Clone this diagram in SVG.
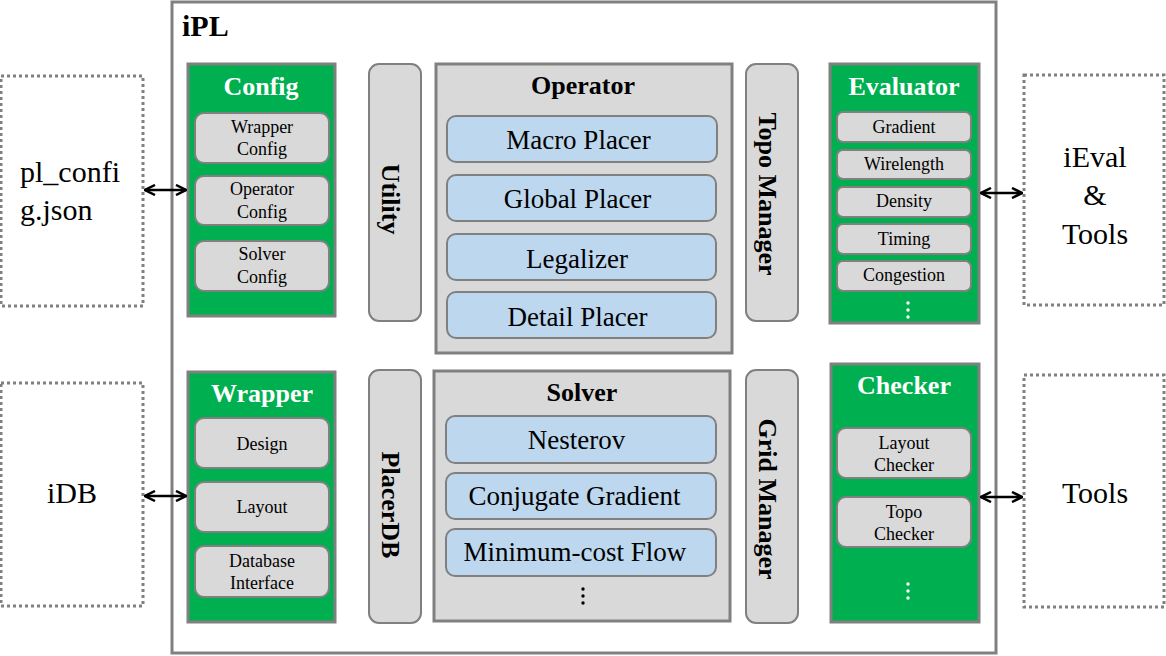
<svg xmlns="http://www.w3.org/2000/svg" width="1166" height="656" viewBox="0 0 1166 656" font-family="Liberation Serif, Times New Roman, serif">
<defs>
<style>
.outer{fill:#fff;stroke:#808080;stroke-width:3}
.green{fill:#00b050;stroke:#808080;stroke-width:3}
.grey{fill:#d9d9d9;stroke:#808080;stroke-width:3}
.item{fill:#d9d9d9;stroke:#808080;stroke-width:2}
.blue{fill:#bdd7ee;stroke:#808080;stroke-width:2}
.ext{fill:#fff;stroke:#808080;stroke-width:3;stroke-dasharray:3 3}
text{text-anchor:middle;fill:#000}
.gt{fill:#fff;font-weight:bold;font-size:26px}
.bt{font-weight:bold;font-size:26px}
.s{font-size:18px}
.m{font-size:27px}
.l{font-size:30px}
.dot{fill:#fff}
.conn{stroke:#000;stroke-width:2.5;fill:none;marker-start:url(#ah);marker-end:url(#ah)}
</style>
<marker id="ah" viewBox="0 0 10 10" refX="9" refY="5" markerWidth="5" markerHeight="5" orient="auto-start-reverse" markerUnits="strokeWidth">
<path d="M1,1 L9,5 L1,9" fill="none" stroke="#000" stroke-width="2"/>
</marker>
</defs>

<g id="ipl">
<rect class="outer" x="172" y="2" width="824" height="651"/>
<text x="182" y="36" class="bt" style="text-anchor:start;font-size:30px">iPL</text>
</g>

<g id="config">
<rect class="green" x="188" y="64" width="147" height="252"/>
<text x="261" y="95" class="gt">Config</text>
<rect class="item" x="195" y="113" width="134" height="50" rx="9"/>
<text x="262" y="133" class="s">Wrapper</text><text x="262" y="155" class="s">Config</text>
<rect class="item" x="195" y="176" width="134" height="49" rx="9"/>
<text x="262" y="195" class="s">Operator</text><text x="262" y="218" class="s">Config</text>
<rect class="item" x="195" y="241" width="134" height="50" rx="9"/>
<text x="262" y="260" class="s">Solver</text><text x="262" y="283" class="s">Config</text>
</g>

<g id="utility">
<rect class="item" x="369" y="64" width="52" height="257" rx="10"/>
<text class="bt" transform="translate(382,199) rotate(90)">Utility</text>
</g>

<g id="operator">
<rect class="grey" x="436" y="64" width="296" height="289"/>
<text x="583" y="94" class="bt">Operator</text>
<rect class="blue" x="447" y="116" width="270" height="46" rx="9"/>
<text x="578.5" y="149" class="m">Macro Placer</text>
<rect class="blue" x="447" y="175" width="269" height="46" rx="9"/>
<text x="577.5" y="208" class="m">Global Placer</text>
<rect class="blue" x="447" y="234" width="269" height="46" rx="9"/>
<text x="577" y="268" class="m">Legalizer</text>
<rect class="blue" x="447" y="292" width="269" height="46" rx="9"/>
<text x="577.5" y="326" class="m">Detail Placer</text>
</g>

<g id="topo-manager">
<rect class="item" x="746" y="64" width="52" height="257" rx="10"/>
<text class="bt" transform="translate(759,194) rotate(90)">Topo Manager</text>
</g>

<g id="evaluator">
<rect class="green" x="830" y="64" width="149" height="259"/>
<text x="904" y="95" class="gt">Evaluator</text>
<rect class="item" x="837" y="112" width="134" height="30" rx="6"/>
<text x="904" y="133" class="s">Gradient</text>
<rect class="item" x="837" y="150" width="134" height="29" rx="6"/>
<text x="904" y="170" class="s">Wirelength</text>
<rect class="item" x="837" y="187" width="134" height="30" rx="6"/>
<text x="904" y="207" class="s">Density</text>
<rect class="item" x="837" y="224" width="134" height="30" rx="6"/>
<text x="904" y="245" class="s">Timing</text>
<rect class="item" x="837" y="261" width="134" height="30" rx="6"/>
<text x="904" y="281" class="s">Congestion</text>
<circle class="dot" cx="908" cy="303" r="1.7"/><circle class="dot" cx="908" cy="310" r="1.7"/><circle class="dot" cx="908" cy="317" r="1.7"/>
</g>

<g id="pl-config">
<rect class="ext" x="1" y="76" width="142" height="230"/>
<text x="20" y="182" class="l" style="text-anchor:start">pl_confi</text>
<text x="20" y="220" class="l" style="text-anchor:start">g.json</text>
</g>

<g id="ieval-tools">
<rect class="ext" x="1024" y="75" width="140" height="230"/>
<text x="1095" y="167" class="l">iEval</text>
<text x="1095" y="205" class="l">&amp;</text>
<text x="1095" y="244" class="l">Tools</text>
</g>

<g id="wrapper">
<rect class="green" x="188" y="372" width="147" height="250"/>
<text x="262" y="402" class="gt">Wrapper</text>
<rect class="item" x="195" y="418" width="134" height="50" rx="9"/>
<text x="262" y="450" class="s">Design</text>
<rect class="item" x="195" y="482" width="134" height="50" rx="9"/>
<text x="262" y="513" class="s">Layout</text>
<rect class="item" x="195" y="546" width="134" height="51" rx="9"/>
<text x="262" y="567" class="s">Database</text><text x="262" y="589" class="s">Interface</text>
</g>

<g id="placerdb">
<rect class="item" x="369" y="370" width="52" height="253" rx="10"/>
<text class="bt" transform="translate(382,505) rotate(90)">PlacerDB</text>
</g>

<g id="solver">
<rect class="grey" x="434" y="371" width="296" height="250"/>
<text x="582" y="401" class="bt">Solver</text>
<rect class="blue" x="446" y="416" width="270" height="47" rx="9"/>
<text x="576.5" y="449" class="m">Nesterov</text>
<rect class="blue" x="446" y="473" width="270" height="46" rx="9"/>
<text x="574.5" y="505" class="m">Conjugate Gradient</text>
<rect class="blue" x="446" y="529" width="270" height="47" rx="9"/>
<text x="575" y="561" class="m">Minimum-cost Flow</text>
<circle cx="583" cy="589" r="1.7"/><circle cx="583" cy="596" r="1.7"/><circle cx="583" cy="603" r="1.7"/>
</g>

<g id="grid-manager">
<rect class="item" x="746" y="370" width="52" height="253" rx="10"/>
<text class="bt" transform="translate(759,499) rotate(90)">Grid Manager</text>
</g>

<g id="checker">
<rect class="green" x="831" y="364" width="148" height="258"/>
<text x="904" y="394" class="gt">Checker</text>
<rect class="item" x="837" y="428" width="134" height="50" rx="9"/>
<text x="904" y="449" class="s">Layout</text><text x="904" y="471" class="s">Checker</text>
<rect class="item" x="837" y="497" width="134" height="50" rx="9"/>
<text x="904" y="518" class="s">Topo</text><text x="904" y="540" class="s">Checker</text>
<circle class="dot" cx="908" cy="584" r="1.7"/><circle class="dot" cx="908" cy="591" r="1.7"/><circle class="dot" cx="908" cy="598" r="1.7"/>
</g>

<g id="idb">
<rect class="ext" x="1" y="383" width="142" height="223"/>
<text x="72" y="503" class="l">iDB</text>
</g>

<g id="tools">
<rect class="ext" x="1024" y="375" width="140" height="232"/>
<text x="1095" y="503" class="l">Tools</text>
</g>

<g id="connectors">
<line class="conn" x1="145" y1="190" x2="186" y2="190"/>
<line class="conn" x1="981" y1="193" x2="1022" y2="193"/>
<line class="conn" x1="145" y1="496" x2="186" y2="496"/>
<line class="conn" x1="981" y1="497" x2="1022" y2="497"/>
</g>
</svg>
